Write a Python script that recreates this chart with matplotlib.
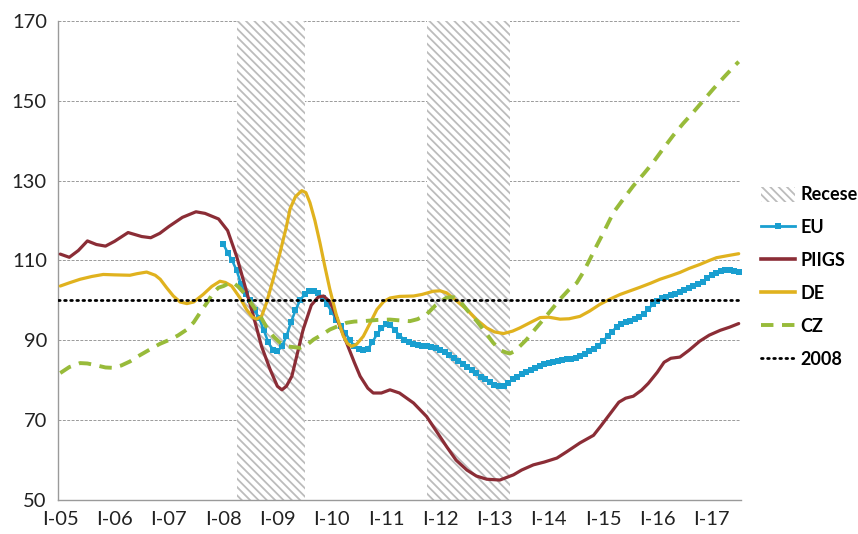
import matplotlib
matplotlib.use("Agg")
import matplotlib.pyplot as plt
from matplotlib.patches import Patch
from matplotlib.lines import Line2D

plt.rcParams['font.family'] = ['Lato', 'DejaVu Sans']
plt.rcParams['hatch.linewidth'] = 1.3

# Month index: 0 = January 2005, 150 = July 2017
tick_labels = ["I-05", "I-06", "I-07", "I-08", "I-09", "I-10", "I-11",
               "I-12", "I-13", "I-14", "I-15", "I-16", "I-17"]
n_months = 151

recessions = [(39.0, 54.0), (81.0, 99.5)]

eu_start = 36
eu_vals = [
    114.2, 112.0, 110.0, 107.5, 104.0, 101.5, 100.0, 97.5, 95.5, 92.5,
    89.5, 87.5, 87.2, 88.5, 91.0, 94.5, 97.5, 100.0, 101.5, 102.3,
    102.3, 101.8, 100.7, 99.0, 97.2, 95.2, 93.5, 91.8, 90.2, 88.5,
    87.7, 87.5, 87.8, 89.5, 91.5, 93.0, 94.0, 93.8, 92.5, 91.2,
    90.2, 89.5, 89.0, 88.8, 88.7, 88.6, 88.4, 88.0, 87.5, 87.0,
    86.3, 85.5, 84.8, 84.0, 83.3, 82.5, 81.7, 80.9, 80.2, 79.5,
    78.9, 78.5, 78.6, 79.3, 80.2, 80.9, 81.5, 82.1, 82.6, 83.1,
    83.6, 84.0, 84.3, 84.6, 84.8, 85.0, 85.2, 85.4, 85.6, 86.0,
    86.6, 87.2, 87.9, 88.7, 89.8, 91.0, 92.2, 93.3, 94.0, 94.5,
    94.9, 95.3, 95.8, 96.7, 97.8, 99.0, 99.9, 100.5, 100.9, 101.3,
    101.6, 102.0, 102.5, 103.0, 103.5, 104.0, 104.7, 105.5, 106.3, 106.9,
    107.3, 107.5, 107.5, 107.3, 107.0,
]

piigs_m = [0, 2, 4, 6, 8, 10, 12, 15, 18, 20, 22, 24, 27, 30, 32, 35, 37, 39,
           40, 42.7, 44.5, 46.4, 48, 49, 50, 51.2, 53.7, 55.5, 57, 58.2, 59.5,
           60.4, 62, 63.3, 65, 66.3, 68, 69.2, 71, 72.9, 75, 78.1, 81, 83,
           85.4, 87.5, 89.9, 92, 94.3, 97.2, 100.2, 102, 104.6, 107, 109.8,
           112, 114.9, 117.9, 119.5, 121.5, 123.5, 125, 126.7, 128.5, 130,
           132, 133.5, 135, 137, 139, 141.4, 143.5, 145.9, 148, 150]
piigs_v = [111.6, 110.8, 112.5, 114.9, 114.0, 113.6, 114.8, 117.0, 116.0,
           115.7, 116.8, 118.5, 120.8, 122.2, 121.8, 120.4, 117.5, 111.0,
           107.0, 96.1, 88.5, 82.7, 78.5, 77.6, 78.5, 81.0, 92.7, 98.8, 100.8,
           101.1, 99.8, 97.7, 93.0, 89.4, 84.5, 81.0, 78.0, 76.8, 76.8, 77.6,
           76.8, 74.3, 70.9, 67.5, 63.4, 60.0, 57.5, 56.0, 55.2, 55.0, 56.3,
           57.5, 58.8, 59.5, 60.5, 62.1, 64.3, 66.2, 68.5, 71.5, 74.5, 75.5,
           76.0, 77.5, 79.2, 82.0, 84.5, 85.5, 85.8, 87.5, 89.8, 91.3, 92.5,
           93.3, 94.2]

de_m = [0, 2, 4.4, 7, 9.5, 12, 15.4, 17, 19.1, 21, 22.1, 23.5, 25, 26.5, 28,
        29.5, 31.6, 33.5, 35.3, 36.5, 37.9, 39.7, 41.2, 42.5, 43.4, 44.5,
        45.6, 47, 48.6, 50, 50.8, 52, 53.4, 54.3, 55.2, 56.3, 57.4, 58.5,
        59.6, 61, 62.6, 63.5, 64.4, 65.5, 67, 68.5, 70, 71.5, 72.9, 75, 78.1,
        80, 82.5, 84, 85.4, 87.5, 89.9, 92, 94.3, 96, 98, 100, 101.6, 104,
        106.1, 108, 110.5, 112.5, 114.9, 117, 119.3, 121.5, 123.8, 126,
        128.2, 130.5, 132.6, 135, 137, 139, 141.4, 143.5, 145.1, 147.5, 150]
de_v = [103.6, 104.4, 105.3, 106.0, 106.5, 106.4, 106.3, 106.7, 107.1, 106.3,
        105.3, 103.2, 101.1, 99.6, 99.2, 99.6, 101.5, 103.5, 104.8, 104.5,
        103.6, 100.7, 97.7, 95.8, 95.3, 96.0, 99.4, 105.0, 112.0, 118.5,
        122.9, 126.0, 127.5, 127.0, 124.5, 120.0, 114.5, 108.5, 102.8, 96.5,
        91.0, 89.2, 88.5, 89.0, 91.0, 94.3, 97.7, 99.7, 100.6, 101.0, 101.1,
        101.5, 102.3, 102.4, 101.9, 100.0, 97.7, 95.2, 93.1, 92.1, 91.7, 92.3,
        93.1, 94.5, 95.7, 95.8, 95.3, 95.4, 96.0, 97.3, 99.0, 100.3, 101.5,
        102.4, 103.3, 104.3, 105.3, 106.2, 107.0, 108.0, 109.0, 110.0, 110.7,
        111.2, 111.7]

cz_m = [0, 2, 4.4, 6, 8.1, 10, 11.7, 13.5, 15.4, 17.5, 19.8, 22, 24.3, 26, 28,
        29.5, 30.9, 32.5, 33.8, 35, 36.1, 37.5, 38.3, 39.5, 41.2, 42.7, 44.2,
        45.5, 47.1, 48.5, 50.1, 53, 54.5, 56, 58, 59.6, 61.5, 63.3, 65, 67,
        70, 72.9, 75, 77.3, 79, 81, 83, 85.4, 87, 88.4, 90, 92.1, 94, 95.7,
        97.3, 98.7, 99.4, 100.5, 101.6, 103.1, 105, 106.8, 108.7, 110.5,
        112.3, 114.2, 115.6, 117.1, 118.5, 120.1, 122.3, 124.5, 126.7, 129,
        131.1, 133.3, 135.5, 137.7, 140, 142.2, 144.4, 146.8, 149.2, 150]
cz_v = [81.8, 83.3, 84.3, 84.2, 83.7, 83.2, 83.1, 83.7, 84.7, 86.2, 87.7, 89.1,
        90.2, 91.2, 92.7, 94.5, 96.9, 99.5, 101.9, 103.2, 103.6, 104.4, 104.4,
        103.3, 101.1, 98.5, 96.1, 93.5, 91.0, 89.5, 88.5, 88.1, 88.8, 90.2,
        91.5, 92.7, 93.6, 94.4, 94.7, 94.8, 95.1, 95.2, 95.0, 94.8, 95.3,
        96.5, 98.8, 100.7, 100.8, 99.8, 97.5, 94.8, 92.0, 89.4, 87.5, 86.9,
        86.7, 87.3, 88.5, 90.2, 92.8, 95.2, 97.8, 100.3, 102.5, 104.4, 107.0,
        110.3, 113.5, 117.0, 122.0, 125.4, 128.7, 131.7, 134.6, 138.0, 141.3,
        144.3, 147.2, 150.1, 153.0, 156.0, 158.9, 159.8]

base_level = 100

c_eu = '#1a9fd0'
c_piigs = '#8b2d36'
c_de = '#e0b21e'
c_cz = '#98bb3a'
c_hatch = '#bcbcbc'
c_grid = '#9a9a9a'

fig = plt.figure(figsize=(8.58, 5.34), dpi=100)
ax = fig.add_axes([0.0676, 0.0637, 0.796, 0.897])

ax.set_xlim(-0.5, n_months - 0.5)
ax.set_ylim(50, 170)
ax.set_yticks(range(50, 171, 20))
ax.set_xticks(range(0, n_months, 12))
ax.set_xticklabels(tick_labels)

ax.yaxis.grid(True, color=c_grid, linestyle=(0, (3, 1.5)), linewidth=0.7)
ax.set_axisbelow(True)
for s in ['top', 'right']:
    ax.spines[s].set_visible(False)
for s in ['left', 'bottom']:
    ax.spines[s].set_color('#9a9a9a')
    ax.spines[s].set_linewidth(1.0)
ax.tick_params(axis='both', length=0, labelsize=14.5, colors='#222222', pad=8)

for x0, x1 in recessions:
    ax.axvspan(x0, x1, facecolor='white', edgecolor=c_hatch,
               hatch='\\\\\\\\', linewidth=0, zorder=1.5)

eu_x = list(range(eu_start, eu_start + len(eu_vals)))
ax.plot(eu_x, eu_vals, color=c_eu, lw=1.8, marker='s', markersize=4.8,
        markeredgewidth=0, zorder=3)
ax.plot(piigs_m, piigs_v, color=c_piigs, lw=2.3, zorder=3.1,
        solid_capstyle='round')
ax.plot(de_m, de_v, color=c_de, lw=2.3, zorder=3.2, solid_capstyle='round')
ax.plot(cz_m, cz_v, color=c_cz, lw=2.8, linestyle=(0, (3.2, 2.2)),
        zorder=3.3)
ax.plot([-0.5, n_months - 0.5], [base_level, base_level], color='black',
        lw=2.0, linestyle=(0, (0.6, 1.6)), dash_capstyle='round', zorder=3.4)

handles = [
    Patch(facecolor='white', edgecolor=c_hatch, hatch='\\\\\\\\', linewidth=0),
    Line2D([], [], color=c_eu, lw=2, marker='s', markersize=5,
           markeredgewidth=0),
    Line2D([], [], color=c_piigs, lw=2.6),
    Line2D([], [], color=c_de, lw=2.6),
    Line2D([], [], color=c_cz, lw=2.8, linestyle=(0, (3.2, 2.2))),
    Line2D([], [], color='black', lw=2.0, linestyle=(0, (0.6, 1.6)),
           dash_capstyle='round'),
]
labels = ["Recese", "EU", "PIIGS", "DE", "CZ", "2008"]
leg = fig.legend(handles, labels, loc='upper left',
                 bbox_to_anchor=(0.877, 0.668), frameon=False, borderpad=0,
                 handlelength=1.85, handleheight=0.9, handletextpad=0.3,
                 labelspacing=0.88, prop={'weight': 'bold', 'size': 13})

fig.savefig('out.png', dpi=100)
